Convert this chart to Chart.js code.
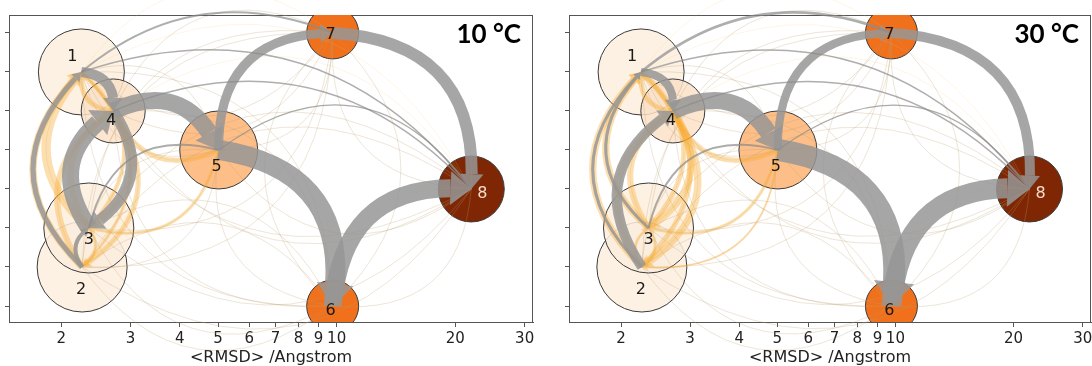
<!DOCTYPE html>
<html>
<head>
<meta charset="utf-8">
<script src="https://cdn.jsdelivr.net/npm/chart.js@4.4.1/dist/chart.umd.min.js"></script>
<style>
  html, body { margin: 0; padding: 0; background: #fff; width: 1092px; height: 366px; overflow: hidden; position: relative; }
  canvas { position: absolute; top: 0; }
  #c10 { left: 0; }
  #c30 { left: 546px; }
</style>
</head>
<body>
<canvas id="c10" width="546" height="366"></canvas>
<canvas id="c30" width="560" height="366"></canvas>
<script>
// nodes (states): mean RMSD on x, vertical level on y, population as bubble size
const nodeIds = ['1', '2', '3', '4', '5', '6', '7', '8'];
const nodeRmsd = [2.25, 2.26, 2.35, 2.71, 5.02, 9.77, 9.77, 21.96];
const nodeLevel = [7, 2, 3, 6, 5, 1, 8, 4];
const nodeSize = [43, 45, 45, 32, 39, 26, 26, 33];
const xTicks = [2, 3, 4, 5, 6, 7, 8, 9, 10, 20, 30];
const panelTitles = ['10 °C', '30 °C'];

// main transitions [from, to, width, rad?]
const flux10 = [[5, 6, 20], [6, 8, 18], [7, 8, 12], [5, 7, 9], [4, 5, 17], [3, 4, 17], [4, 3, 11],
  [1, 4, 10], [2, 1, 5], [2, 3, 4], [1, 7, 2, 0.3], [3, 5, 2], [1, 8, 1.5, 0.35], [4, 8, 1.5, 0.35], [5, 8, 1.2]];
const flux30 = [[5, 6, 22], [6, 8, 20], [7, 8, 10], [5, 7, 8], [4, 5, 17], [1, 4, 8], [2, 4, 10],
  [3, 1, 3], [2, 1, 3], [1, 7, 2.5, 0.3], [3, 5, 2], [1, 8, 1.5, 0.35], [4, 8, 1.5, 0.35], [5, 8, 1.2]];
// second set of transitions (orange)
const other10 = [[3, 1, 9], [2, 1, 7], [2, 4, 6], [3, 4, 6], [4, 3, 6], [4, 2, 5], [1, 3, 4], [1, 2, 3],
  [5, 4, 5], [4, 1, 5], [3, 2, 3], [2, 3, 3], [5, 3, 3]];
const other30 = [[3, 1, 7], [2, 1, 7], [2, 4, 6], [3, 4, 6], [4, 3, 7], [4, 2, 7], [1, 3, 5], [1, 2, 5],
  [5, 4, 5], [4, 1, 5], [3, 2, 3], [2, 3, 3], [5, 3, 3], [5, 2, 2]];

const nodeFill = ['rgba(253,238,222,0.85)', 'rgba(253,238,222,0.85)', 'rgba(253,238,222,0.85)', 'rgba(252,226,200,0.85)',
  'rgba(253,187,130,0.95)', '#f0701c', '#f0701c', '#7f2704'];
const labelDx = [-9, -1, 0, -2, -2, -2, -2, 11];
const labelDy = [-15, 23, 12, 10, 17, 5, 2, 5];

// draw one curved arrow (arc3 style quadratic)
function drawArrow(ctx, p0, p2, rad, w, color, head) {
  const dx = p2.x - p0.x, dy = p2.y - p0.y;
  const c = { x: (p0.x + p2.x) / 2 + rad * dy, y: (p0.y + p2.y) / 2 - rad * dx };
  const bez = t => ({
    x: (1 - t) * (1 - t) * p0.x + 2 * t * (1 - t) * c.x + t * t * p2.x,
    y: (1 - t) * (1 - t) * p0.y + 2 * t * (1 - t) * c.y + t * t * p2.y
  });
  let tEnd = 1;
  const hl = head ? 0.9 * w + 4 : 0;
  const hw = head ? 1.7 * w + 3 : 0;
  if (head) {
    for (let t = 1; t > 0; t -= 0.002) {
      const p = bez(t);
      if (Math.hypot(p.x - p2.x, p.y - p2.y) >= hl) { tEnd = t; break; }
    }
  }
  const e = bez(tEnd);
  const cc = { x: p0.x + tEnd * (c.x - p0.x), y: p0.y + tEnd * (c.y - p0.y) };
  ctx.save();
  ctx.strokeStyle = color;
  ctx.fillStyle = color;
  ctx.lineWidth = w;
  ctx.lineCap = 'butt';
  ctx.beginPath();
  ctx.moveTo(p0.x, p0.y);
  ctx.quadraticCurveTo(cc.x, cc.y, e.x, e.y);
  ctx.stroke();
  if (head) {
    const len = Math.hypot(p2.x - e.x, p2.y - e.y) || 1;
    const ux = (p2.x - e.x) / len, uy = (p2.y - e.y) / len;
    ctx.beginPath();
    ctx.moveTo(p2.x, p2.y);
    ctx.lineTo(e.x - uy * hw / 2, e.y + ux * hw / 2);
    ctx.lineTo(e.x + uy * hw / 2, e.y - ux * hw / 2);
    ctx.closePath();
    ctx.fill();
  }
  ctx.restore();
}

const networkPlugin = {
  id: 'network',
  beforeDatasetsDraw(chart) {
    const a = chart.chartArea, ctx = chart.ctx;
    ctx.save();
    ctx.strokeStyle = '#555';
    ctx.lineWidth = 1;
    ctx.strokeRect(a.left + 0.5, a.top + 0.5, a.right - a.left - 1, a.bottom - a.top);
    ctx.restore();
  },
  afterDatasetsDraw(chart, args, opts) {
    const ctx = chart.ctx;
    const xs = chart.scales.x, ys = chart.scales.y;
    const pos = n => ({ x: xs.getPixelForValue(nodeRmsd[n - 1]), y: ys.getPixelForValue(nodeLevel[n - 1]) });
    const has = (list, i, j) => list.some(e => e[0] === i && e[1] === j);

    // faint background transitions between every pair
    for (let i = 1; i <= 8; i++) {
      for (let j = 1; j <= 8; j++) {
        if (i === j) continue;
        if (!has(opts.other, i, j)) drawArrow(ctx, pos(i), pos(j), 0.5, 1, 'rgba(248,195,100,0.16)', false);
      }
    }
    for (let i = 1; i <= 8; i++) {
      for (let j = 1; j <= 8; j++) {
        if (i === j) continue;
        if (!has(opts.flux, i, j)) drawArrow(ctx, pos(i), pos(j), 0.5, 0.8, 'rgba(120,120,120,0.16)', false);
      }
    }
    opts.other.forEach(e => drawArrow(ctx, pos(e[0]), pos(e[1]), e[3] ?? 0.5, e[2], 'rgba(250,170,45,0.38)', true));
    opts.flux.forEach(e => {
      const col = e[2] < 3 ? 'rgba(140,140,140,0.7)' : 'rgba(150,150,150,0.85)';
      drawArrow(ctx, pos(e[0]), pos(e[1]), e[3] ?? 0.5, e[2], col, e[2] >= 3);
    });

    // node labels
    ctx.save();
    ctx.font = '16px "DejaVu Sans"';
    ctx.textAlign = 'center';
    ctx.textBaseline = 'middle';
    nodeIds.forEach((id, k) => {
      const p = pos(k + 1);
      ctx.fillStyle = k === 7 ? '#f6dccb' : '#1a1a1a';
      ctx.fillText(id, p.x + labelDx[k], p.y + labelDy[k]);
    });
    // panel title
    ctx.font = 'bold 26px Lato';
    ctx.textAlign = 'right';
    ctx.textBaseline = 'alphabetic';
    ctx.fillStyle = '#000';
    ctx.fillText(opts.title, chart.chartArea.right - 12, 43);
    ctx.restore();
  }
};

function makeChart(id, title, flux, other, padLeft, padRight) {
  const ctx = document.getElementById(id).getContext('2d');
  return new Chart(ctx, {
    type: 'bubble',
    data: {
      datasets: [{
        data: nodeRmsd.map((x, i) => ({ x: x, y: nodeLevel[i], r: nodeSize[i] })),
        backgroundColor: nodeFill,
        borderColor: '#3a3a3a',
        borderWidth: 1,
        hoverRadius: 0,
        clip: 0
      }]
    },
    options: {
      responsive: false,
      animation: false,
      devicePixelRatio: 1,
      layout: { autoPadding: false, padding: { left: padLeft, right: padRight, top: 15, bottom: 0 } },
      plugins: {
        legend: { display: false },
        tooltip: { enabled: false },
        network: { title: title, flux: flux, other: other }
      },
      scales: {
        x: {
          type: 'logarithmic',
          min: 1.474, max: 31.5,
          afterBuildTicks: axis => { axis.ticks = xTicks.map(v => ({ value: v })); },
          afterFit: axis => { axis.height = 44; },
          ticks: {
            autoSkip: false, maxRotation: 0, padding: 3, color: '#222',
            font: { family: 'DejaVu Sans', size: 15 },
            callback: v => String(v)
          },
          grid: { drawOnChartArea: false, tickLength: 5, color: '#555' },
          border: { color: '#555' },
          title: {
            display: true, text: '<RMSD> /Angstrom', color: '#222',
            font: { family: 'DejaVu Sans', size: 16, lineHeight: 1 },
            padding: { top: 0, bottom: 0 }
          }
        },
        y: {
          type: 'linear',
          min: 0.59, max: 8.46,
          afterBuildTicks: axis => { axis.ticks = [1, 2, 3, 4, 5, 6, 7, 8].map(v => ({ value: v })); },
          ticks: { display: false },
          grid: { drawOnChartArea: false, tickLength: 4, color: '#555' },
          border: { color: '#555' }
        }
      }
    },
    plugins: [networkPlugin]
  });
}

makeChart('c10', panelTitles[0], flux10, other10, 5, 13);
makeChart('c30', panelTitles[1], flux30, other30, 19, 15);
</script>
</body>
</html>
